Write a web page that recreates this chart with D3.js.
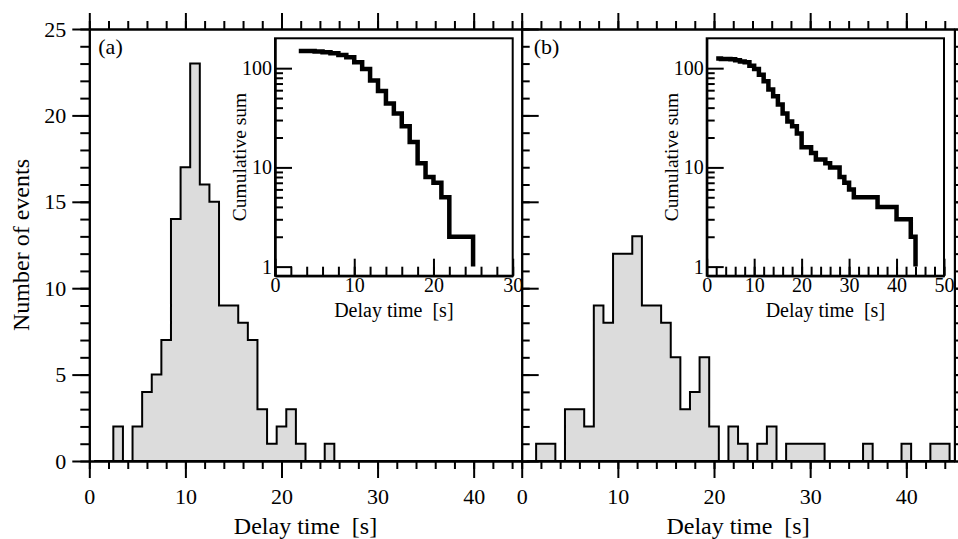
<!DOCTYPE html>
<html>
<head>
<meta charset="utf-8">
<script src="https://cdn.jsdelivr.net/npm/d3@7"></script>
<style>
  body { margin: 0; background: #fff; }
  svg { display: block; }
  text { font-family: "Liberation Serif", "DejaVu Serif", serif; }
</style>
</head>
<body>
<svg id="chart" width="958" height="539"></svg>
<script>
// histogram bins (delay time, s) - one bin per second, centred on integers
const delayBins = [1,2,3,4,5,6,7,8,9,10,11,12,13,14,15,16,17,18,19,20,21,22,23,24,25,26,27,28,29,30,31,32,33,34,35,36,37,38,39,40,41,42,43,44,45];

const countsA = [0,0,2,0,2,4,5,7,14,17,23,16,15,9,9,8,7,3,1,2,3,1,0,0,1,0,0,0,0,0,0,0,0,0,0,0,0,0,0,0,0,0,0,0,0];
const countsB = [0,1,1,0,3,3,2,9,8,12,12,13,9,9,8,6,3,4,6,2,0,2,1,0,1,2,0,1,1,1,1,0,0,0,0,1,0,0,0,1,0,0,1,1,0];

// cumulative sums shown in the insets
const cumTimeA = [3,5,6,7,8,9,10,11,12,13,14,15,16,17,18,19,20,21,22,25];
const cumSumA  = [149,147,145,141,136,129,115,98,75,59,44,35,26,18,11,8,7,5,2,1];
const cumTimeB = [2,3,5,6,7,8,9,10,11,12,13,14,15,16,17,18,19,20,22,23,25,26,28,29,30,31,36,40,43,44];
const cumSumB  = [125,124,123,120,117,115,106,98,86,74,61,52,43,35,29,26,22,16,14,12,11,10,8,7,6,5,4,3,2,1];

// tick values
const histMajorX = [0,10,20,30,40];
const histMinorX = [0,2,4,6,8,10,12,14,16,18,20,22,24,26,28,30,32,34,36,38,40,42,44];
const histMajorY = [0,5,10,15,20,25];
const histMinorY = [0,1,2,3,4,5,6,7,8,9,10,11,12,13,14,15,16,17,18,19,20,21,22,23,24,25];
const insetMajorXA = [0,10,20,30];
const insetMajorXB = [0,10,20,30,40,50];
const insetMinorXA = [0,2,4,6,8,10,12,14,16,18,20,22,24,26,28,30];
const insetMinorXB = [0,2,4,6,8,10,12,14,16,18,20,22,24,26,28,30,32,34,36,38,40,42,44,46,48,50];
const insetMajorY = [1,10,100];
const insetMinorY = [2,3,4,5,6,7,8,9,20,30,40,50,60,70,80,90];

const svg = d3.select("#chart");

let xA = d3.scaleLinear().domain([0, 45]).range([89.3, 521.7]).clamp(true);
let xB = d3.scaleLinear().domain([0, 45]).range([521.7, 954.4]).clamp(true);
let y = d3.scaleLinear().domain([0, 25]).range([461, 29]);

function styleAxis(g, size) {
  g.selectAll("line, path").attr("stroke", "#000").attr("stroke-width", 2);
  g.attr("font-family", "Liberation Serif").attr("font-size", size);
  g.selectAll("text").attr("fill", "#000");
}

// ---- histograms ----
function drawHist(x, counts) {
  let pts = delayBins.map((c, i) => [c - 0.5, counts[i]]);
  pts.push([45.5, 0]);
  let area = d3.area()
    .curve(d3.curveStepAfter)
    .x(d => x(d[0]))
    .y0(y(0))
    .y1(d => y(d[1]));
  svg.append("path")
    .attr("d", area(pts))
    .attr("fill", "#dcdcdc")
    .attr("stroke", "#000")
    .attr("stroke-width", 2)
    .attr("stroke-linejoin", "miter");
}
drawHist(xA, countsA);
drawHist(xB, countsB);

// ---- main axes ----
for (let x of [xA, xB]) {
  let gb = svg.append("g").attr("transform", `translate(0,${y(0)})`);
  gb.call(d3.axisBottom(x).tickValues(histMinorX).tickSize(8).tickSizeOuter(0).tickFormat(""));
  styleAxis(gb, 22);
  let gb2 = svg.append("g").attr("transform", `translate(0,${y(0)})`);
  gb2.call(d3.axisBottom(x).tickValues(histMajorX).tickSize(17).tickSizeOuter(0).tickPadding(10).tickFormat(d3.format("d")));
  styleAxis(gb2, 22);

  let gt = svg.append("g").attr("transform", `translate(0,${y(25)})`);
  gt.call(d3.axisTop(x).tickValues(histMinorX).tickSize(8).tickSizeOuter(0).tickFormat(""));
  styleAxis(gt, 22);
  let gt2 = svg.append("g").attr("transform", `translate(0,${y(25)})`);
  gt2.call(d3.axisTop(x).tickValues(histMajorX).tickSize(16).tickSizeOuter(0).tickFormat(""));
  styleAxis(gt2, 22);
}

// left axis with labels
let gl = svg.append("g").attr("transform", `translate(${xA(0)},0)`);
gl.call(d3.axisLeft(y).tickValues(histMinorY).tickSize(9).tickSizeOuter(0).tickFormat(""));
styleAxis(gl, 22);
let gl2 = svg.append("g").attr("transform", `translate(${xA(0)},0)`);
gl2.call(d3.axisLeft(y).tickValues(histMajorY).tickSize(17).tickSizeOuter(0).tickPadding(6).tickFormat(d3.format("d")));
styleAxis(gl2, 22);

// divider and right edge: ticks point right
for (let xp of [xB(0), xB(45)]) {
  let gr = svg.append("g").attr("transform", `translate(${xp},0)`);
  gr.call(d3.axisRight(y).tickValues(histMinorY).tickSize(8).tickSizeOuter(0).tickFormat(""));
  styleAxis(gr, 22);
  let gr2 = svg.append("g").attr("transform", `translate(${xp},0)`);
  gr2.call(d3.axisRight(y).tickValues(histMajorY).tickSize(17).tickSizeOuter(0).tickFormat(""));
  styleAxis(gr2, 22);
}

// axis titles
svg.append("text")
  .attr("x", (xA(0) + xA(45)) / 2).attr("y", 534)
  .attr("text-anchor", "middle").attr("font-size", 24)
  .attr("xml:space", "preserve")
  .text("Delay time  [s]");
svg.append("text")
  .attr("x", (xB(0) + xB(45)) / 2).attr("y", 534)
  .attr("text-anchor", "middle").attr("font-size", 24)
  .attr("xml:space", "preserve")
  .text("Delay time  [s]");
svg.append("text")
  .attr("transform", `translate(29,${(y(0) + y(25)) / 2}) rotate(-90)`)
  .attr("text-anchor", "middle").attr("font-size", 24)
  .text("Number of events");

svg.append("text").attr("x", xA(0) + 9).attr("y", 54).attr("font-size", 22).text("(a)");
svg.append("text").attr("x", xB(0) + 12).attr("y", 54).attr("font-size", 22).text("(b)");

// ---- insets ----
function drawInset(left, right, xMax, majorX, minorX, times, sums) {
  let top = 38.3, bottom = 275.7;
  let ix = d3.scaleLinear().domain([0, xMax]).range([left, right]);
  let iy = d3.scaleLog().domain([0.81, 200]).range([bottom, top]);

  svg.append("rect")
    .attr("x", left).attr("y", top)
    .attr("width", right - left).attr("height", bottom - top)
    .attr("fill", "#fff").attr("stroke", "#000").attr("stroke-width", 2);

  let g1 = svg.append("g").attr("transform", `translate(0,${bottom})`);
  g1.call(d3.axisBottom(ix).tickValues(minorX).tickSize(-9).tickSizeOuter(0).tickFormat(""));
  styleAxis(g1, 20);
  let g2 = svg.append("g").attr("transform", `translate(0,${bottom})`);
  g2.call(d3.axisBottom(ix).tickValues(majorX).tickSize(-17).tickSizeOuter(0).tickPadding(2).tickFormat(d3.format("d")));
  styleAxis(g2, 20);

  let g3 = svg.append("g").attr("transform", `translate(${left},0)`);
  g3.call(d3.axisLeft(iy).tickValues(insetMinorY).tickSize(-8).tickSizeOuter(0).tickFormat(""));
  styleAxis(g3, 20);
  let g4 = svg.append("g").attr("transform", `translate(${left},0)`);
  g4.call(d3.axisLeft(iy).tickValues(insetMajorY).tickSize(-17).tickSizeOuter(0).tickPadding(3).tickFormat(d3.format("d")));
  styleAxis(g4, 20);

  let line = d3.line()
    .curve(d3.curveStepAfter)
    .x((d, i) => ix(times[i]))
    .y(d => iy(d));
  svg.append("path")
    .attr("d", line(sums))
    .attr("fill", "none")
    .attr("stroke", "#000")
    .attr("stroke-width", 4.5);

  svg.append("text")
    .attr("x", (left + right) / 2).attr("y", 317)
    .attr("text-anchor", "middle").attr("font-size", 20)
    .attr("xml:space", "preserve")
    .text("Delay time  [s]");
  svg.append("text")
    .attr("transform", `translate(${left - 29},${(top + bottom) / 2}) rotate(-90)`)
    .attr("text-anchor", "middle").attr("font-size", 19.5)
    .text("Cumulative sum");
}

drawInset(275, 512.7, 30, insetMajorXA, insetMinorXA, cumTimeA, cumSumA);
drawInset(706.7, 944, 50, insetMajorXB, insetMinorXB, cumTimeB, cumSumB);
</script>
</body>
</html>
